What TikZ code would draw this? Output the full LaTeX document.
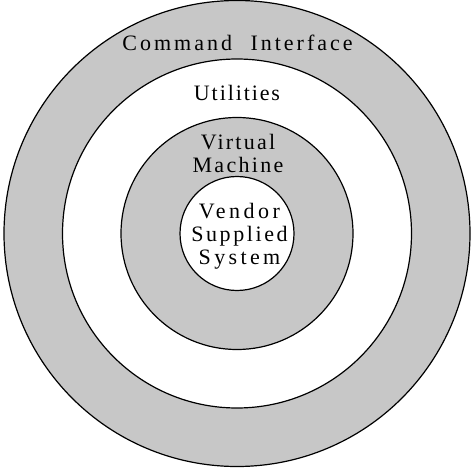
\documentclass[tikz,border=0pt]{standalone}
\usepackage{fontspec}
\setmainfont{Liberation Serif}
\newfontfamily\lsA{Liberation Serif}[LetterSpace=13.6]
\newfontfamily\lsU{Liberation Serif}[LetterSpace=8.6]
\newfontfamily\lsVi{Liberation Serif}[LetterSpace=10.2]
\newfontfamily\lsMa{Liberation Serif}[LetterSpace=10.4]
\newfontfamily\lsVe{Liberation Serif}[LetterSpace=15.9]
\newfontfamily\lsSu{Liberation Serif}[LetterSpace=11.8]
\newfontfamily\lsSy{Liberation Serif}[LetterSpace=15.3]
\tikzset{
  ring/.style={draw=black, line width=1.2pt},
  shaded/.style={ring, fill=black!22},
  blank/.style={ring, fill=white},
  lab/.style={font=\fontsize{22}{23}\selectfont, inner sep=0pt, align=center}
}
\begin{document}
\begin{tikzpicture}[x=1pt,y=-1pt]
\useasboundingbox (0,0) rectangle (474,468);
\coordinate (c) at (237,233.5);
\draw[shaded] (c) circle[radius=233];
\draw[blank] (c) circle[radius=174.5];
\draw[shaded] (c) circle[radius=116];
\draw[blank] (c) circle[radius=57];
\node[lab, anchor=base] (ci) at (237.5,51) {\lsA Command\hspace{10pt} Interface};
\node[lab, anchor=base] (ut) at (237,101) {\lsU Utilities};
\node[lab, anchor=base] (vm) at (238,172) {{\lsVi Virtual}\\{\lsMa Machine}};
\node[lab, anchor=base] (vs) at (239.5,264) {{\lsVe Vendor}\\{\lsSu Supplied}\\{\lsSy System}};
\end{tikzpicture}
\end{document}
